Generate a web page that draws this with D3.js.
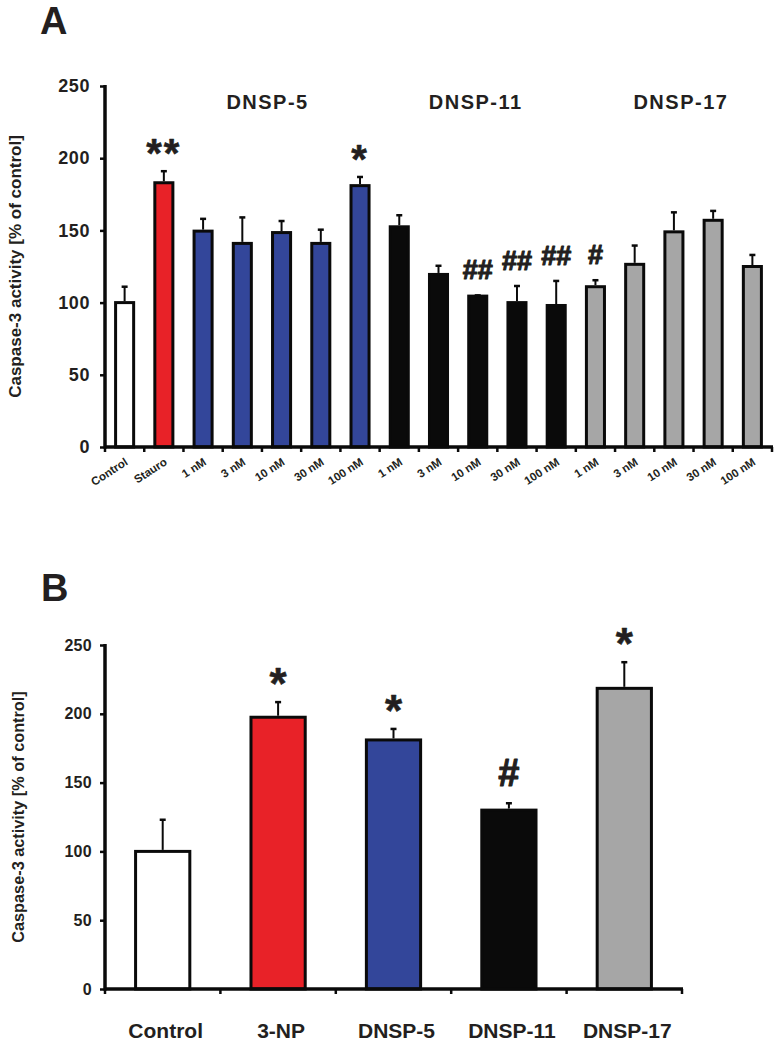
<!DOCTYPE html>
<html>
<head>
<meta charset="utf-8">
<script src="https://cdn.jsdelivr.net/npm/d3@7"></script>
<style>
  html, body { margin: 0; padding: 0; background: #fff; }
  svg { display: block; }
  text { font-family: "Liberation Sans", Arial, Helvetica, sans-serif; font-weight: bold; fill: #231f20; }
</style>
</head>
<body>
<svg id="chart" width="779" height="1045"></svg>
<script>
// ---------- Panel A data ----------
const catsA = ["Control", "Stauro",
  "1 nM", "3 nM", "10 nM", "30 nM", "100 nM",
  "1 nM ", "3 nM ", "10 nM ", "30 nM ", "100 nM ",
  "1 nM  ", "3 nM  ", "10 nM  ", "30 nM  ", "100 nM  "];
const valsA = [100, 183, 149.5, 141, 148.5, 141, 181, 152.5, 119.5, 104.5, 100, 98, 111, 126.5, 149, 157, 125];
const errsA = [11, 8, 8.5, 18, 8, 9.5, 6, 8, 6, 0.5, 11.5, 17, 4.5, 13, 13.5, 6.5, 8];
const groupA = ["ctrl", "stauro", "d5", "d5", "d5", "d5", "d5", "d11", "d11", "d11", "d11", "d11", "d17", "d17", "d17", "d17", "d17"];
const marksA = ["", "**", "", "", "", "", "*", "", "", "##", "##", "##", "#", "", "", "", ""];
const groupLabelsA = ["DNSP-5", "DNSP-11", "DNSP-17"];
const groupLabelCatsA = ["10 nM", "10 nM ", "10 nM  "];
const yTicks = [0, 50, 100, 150, 200, 250];

// ---------- Panel B data ----------
const catsB = ["Control", "3-NP", "DNSP-5", "DNSP-11", "DNSP-17"];
const valsB = [100, 197.5, 181, 130, 218.5];
const errsB = [23, 11, 8, 5, 19];
const groupB = ["ctrl", "stauro", "d5", "d11", "d17"];
const marksB = ["", "*", "*", "#", "*"];

const colors = { ctrl: "#ffffff", stauro: "#e82228", d5: "#33469a", d11: "#0a0a0a", d17: "#a6a6a6" };
const yLabel = "Caspase-3 activity [% of control]";

const svg = d3.select("#chart");

function panel(opts) {
  const { cats, vals, errs, groups, marks, left, right, yTop, yBottom, pad, capW } = opts;
  const g = svg.append("g");
  const x = d3.scaleBand().domain(cats).range([left, right]).paddingInner(pad).paddingOuter(pad / 2);
  const xEdge = d3.scaleBand().domain(cats).range([left, right]).padding(0);
  const y = d3.scaleLinear().domain([0, 250]).range([yBottom, yTop]);
  const sw = 3;

  // bars
  g.selectAll("rect.bar").data(cats).join("rect")
    .attr("x", d => x(d))
    .attr("width", x.bandwidth())
    .attr("y", (d, i) => y(vals[i]))
    .attr("height", (d, i) => y(0) - y(vals[i]))
    .attr("fill", (d, i) => colors[groups[i]])
    .attr("stroke", "#0a0a0a")
    .attr("stroke-width", sw);

  // error bars
  g.selectAll("line.err").data(cats).join("line")
    .attr("x1", d => x(d) + x.bandwidth() / 2)
    .attr("x2", d => x(d) + x.bandwidth() / 2)
    .attr("y1", (d, i) => y(vals[i]) - sw / 2)
    .attr("y2", (d, i) => y(vals[i] + errs[i]))
    .attr("stroke", "#0a0a0a").attr("stroke-width", 2);
  g.selectAll("line.cap").data(cats).join("line")
    .attr("x1", d => x(d) + x.bandwidth() / 2 - capW / 2)
    .attr("x2", d => x(d) + x.bandwidth() / 2 + capW / 2)
    .attr("y1", (d, i) => y(vals[i] + errs[i]))
    .attr("y2", (d, i) => y(vals[i] + errs[i]))
    .attr("stroke", "#0a0a0a").attr("stroke-width", 2.5);

  // axes
  const yAxis = d3.axisLeft(y).tickValues(yTicks).tickSize(5).tickPadding(opts.tickPad);
  const ya = g.append("g").attr("transform", `translate(${left},0)`).call(yAxis);
  ya.select(".domain").remove();
  ya.selectAll(".tick line").attr("stroke", "#0a0a0a").attr("stroke-width", 2.5);
  ya.selectAll(".tick text").attr("font-size", opts.tickFont).attr("letter-spacing", opts.tickLS)
    .attr("font-family", null).style("fill", "#231f20");
  g.append("line").attr("x1", left).attr("x2", left).attr("y1", yTop - 1).attr("y2", yBottom + 1.5)
    .attr("stroke", "#0a0a0a").attr("stroke-width", 3.5);
  g.append("line").attr("x1", left).attr("x2", right + 1).attr("y1", yBottom).attr("y2", yBottom)
    .attr("stroke", "#0a0a0a").attr("stroke-width", 3.5);
  const edges = cats.map(c => xEdge(c)).concat([right]);
  g.selectAll("line.xt").data(edges).join("line")
    .attr("x1", d => d).attr("x2", d => d)
    .attr("y1", yBottom).attr("y2", yBottom + 5)
    .attr("stroke", "#0a0a0a").attr("stroke-width", 2.5);

  // y label
  g.append("text")
    .attr("transform", `translate(${opts.yLabelX},${(yTop + yBottom) / 2}) rotate(-90)`)
    .attr("text-anchor", "middle")
    .attr("font-size", opts.yLabelFont)
    .text(yLabel);

  // significance marks
  const isStar = m => m.startsWith("*");
  g.selectAll("text.mark").data(cats).join("text")
    .attr("x", d => x(d) + x.bandwidth() / 2)
    .attr("y", (d, i) => y(vals[i] + errs[i]) - (isStar(marks[i]) ? opts.starGap : opts.hashGap))
    .attr("text-anchor", "middle")
    .attr("font-size", (d, i) => isStar(marks[i]) ? opts.starFont : opts.hashFont)
    .attr("dy", (d, i) => isStar(marks[i]) ? "0.45em" : "0")
    .attr("letter-spacing", (d, i) => isStar(marks[i]) ? opts.starLS : "0px")
    .attr("stroke", "#231f20")
    .attr("stroke-width", (d, i) => isStar(marks[i]) ? 0.6 : 1.1)
    .attr("stroke-linejoin", "round")
    .text((d, i) => marks[i]);

  return { x, y, g };
}

// ---------- Panel A ----------
const A = panel({
  cats: catsA, vals: valsA, errs: errsA, groups: groupA, marks: marksA,
  left: 105, right: 772, yTop: 86, yBottom: 447, pad: 0.54, capW: 6,
  tickFont: 18, tickLS: "0.6px", tickPad: 10, yLabelX: 21, yLabelFont: 17,
  starFont: 40, starGap: 22, starLS: "2px", hashFont: 27, hashGap: 16
});
A.g.selectAll("text.xl").data(catsA).join("text")
  .attr("transform", d => `translate(${A.x(d) + A.x.bandwidth() / 2 + 4},${464}) rotate(-33)`)
  .attr("text-anchor", "end")
  .attr("font-size", 11.5)
  .text(d => d.trim());
const groupDx = [-14, -2, 7];
A.g.selectAll("text.grp").data(groupLabelsA).join("text")
  .attr("x", (d, i) => A.x(groupLabelCatsA[i]) + A.x.bandwidth() / 2 + groupDx[i])
  .attr("y", 109)
  .attr("text-anchor", "middle")
  .attr("font-size", 20)
  .attr("letter-spacing", "1.5px")
  .text(d => d);
svg.append("text").attr("x", 40).attr("y", 34).attr("font-size", 38).text("A");

// ---------- Panel B ----------
const B = panel({
  cats: catsB, vals: valsB, errs: errsB, groups: groupB, marks: marksB,
  left: 105, right: 682, yTop: 645, yBottom: 989, pad: 0.53, capW: 6,
  tickFont: 16, tickLS: "0.3px", tickPad: 8, yLabelX: 24, yLabelFont: 16.3,
  starFont: 44, starGap: 23, starLS: "0px", hashFont: 38, hashGap: 17
});
B.g.selectAll("text.xl").data(catsB).join("text")
  .attr("x", d => B.x(d) + B.x.bandwidth() / 2 + 3)
  .attr("y", 1038)
  .attr("text-anchor", "middle")
  .attr("font-size", 21)
  .text(d => d);
svg.append("text").attr("x", 41).attr("y", 601).attr("font-size", 38).text("B");
</script>
</body>
</html>
